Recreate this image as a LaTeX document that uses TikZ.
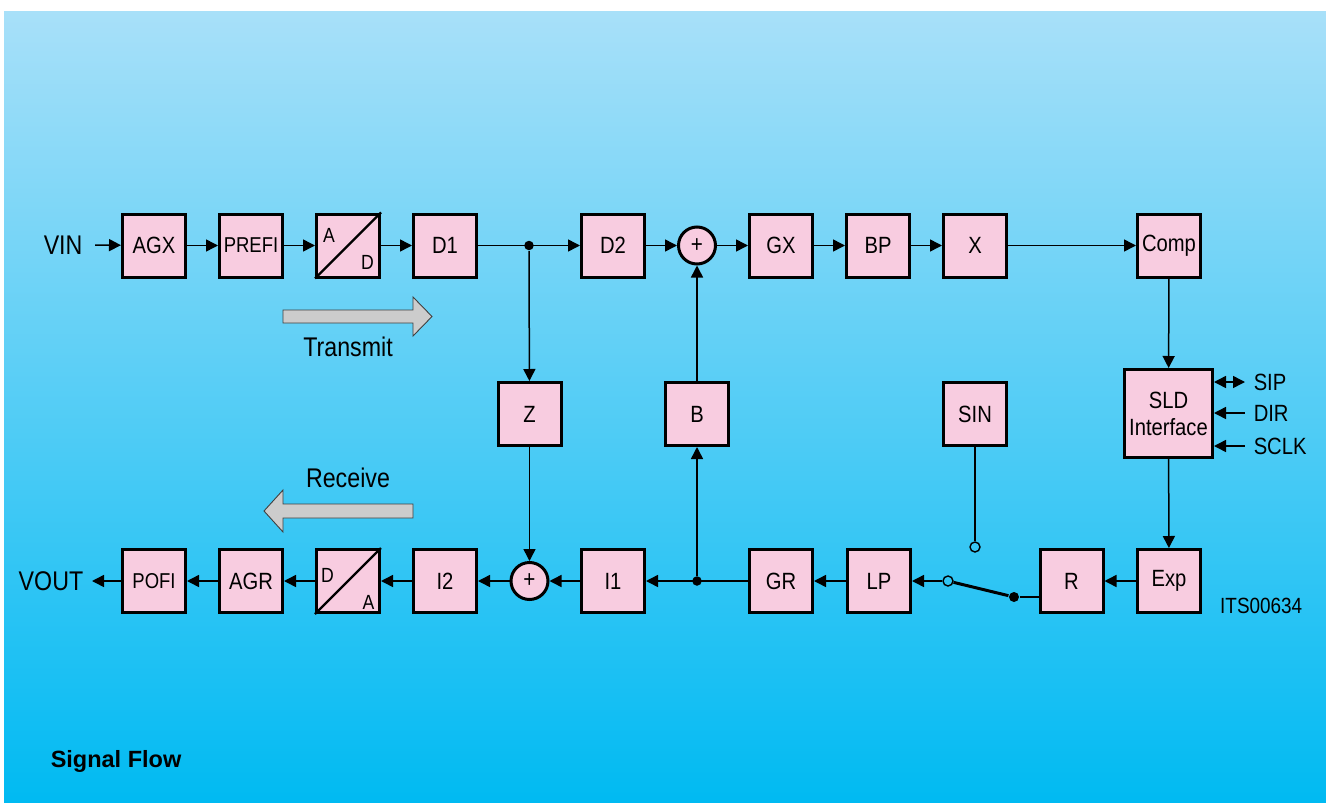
\documentclass[tikz,border=0pt]{standalone}
\usepackage{fontspec}
\setmainfont{Liberation Sans}
\newfontfamily\narrowfont{Liberation Sans}[FakeStretch=0.86]
\usepackage{xcolor}
\usetikzlibrary{arrows.meta,positioning}
\definecolor{boxpink}{RGB}{248,204,224}
\definecolor{skytop}{RGB}{168,224,249}
\definecolor{skybottom}{RGB}{0,186,242}
\definecolor{flowgray}{RGB}{204,204,204}
\newcommand{\narrowat}[2]{\narrowfont\fontsize{#1}{#2}\selectfont}

\begin{document}
\begin{tikzpicture}[x=1pt, y=-1pt, line width=1.5pt, >={Triangle[length=12pt,width=12pt]},
    block/.style={draw, rectangle, line width=3pt, fill=boxpink, minimum width=63pt, minimum height=63pt, inner sep=0pt, font=\narrowat{23.5}{27}},
    summer/.style={draw, circle, line width=3pt, fill=boxpink, minimum size=37pt, inner sep=0pt, font=\narrowat{24}{26}},
    junction/.style={circle, fill=black, minimum size=9.5pt, inner sep=0pt},
    contact/.style={draw, circle, line width=1.4pt, minimum size=10pt, inner sep=0pt},
    sidelabel/.style={inner sep=0pt, font=\narrowat{27}{31}},
    pinlabel/.style={inner sep=0pt, anchor=west, font=\narrowat{23.5}{27}},
    bigflow/.style={draw=black!75, line width=0.9pt, fill=flowgray}]
    \useasboundingbox (0,0) rectangle (1326,803);
    \shade[top color=skytop, bottom color=skybottom] (4,11) rectangle (1326,803);

    % transmit path
    \node[sidelabel, anchor=west] (vin) at (43,245) {VIN};
    \node[block] (agx) at (154,245.5) {AGX};
    \node[block, font=\narrowat{21.5}{25}] (prefi) at (251,245.5) {PREFI};
    \node[block] (ad) at (348,245.5) {};
    \node[block] (done) at (445,245.5) {D1};
    \node[junction] (jtx) at (529,245.5) {};
    \node[block] (dtwo) at (613,245.5) {D2};
    \node[summer] (sumtx) at (697,245.5) {+};
    \node[block] (gx) at (781,245.5) {GX};
    \node[block] (bp) at (878,245.5) {BP};
    \node[block] (xb) at (975,245.5) {X};
    \node[block] (comp) at (1169,245.5) {Comp};

    % middle row
    \node[block] (z) at (529.5,414) {Z};
    \node[block] (b) at (697,414) {B};
    \node[block] (sin) at (975,414) {SIN};
    \node[block, minimum width=88pt, minimum height=88pt, align=center] (sld) at (1168.5,413.5) {SLD\\Interface};
    \node[pinlabel] (sip) at (1253,382) {SIP};
    \node[pinlabel] (dir) at (1253,413) {DIR};
    \node[pinlabel] (sclk) at (1253,446) {SCLK};

    % receive path
    \node[sidelabel, anchor=west] (vout) at (18,581) {VOUT};
    \node[block, font=\narrowat{21.5}{25}] (pofi) at (154,581) {POFI};
    \node[block] (agr) at (251,581) {AGR};
    \node[block] (da) at (348,581) {};
    \node[block] (itwo) at (445,581) {I2};
    \node[summer] (sumrx) at (529.5,581) {+};
    \node[block] (ione) at (613,581) {I1};
    \node[junction] (jrx) at (697,581) {};
    \node[block] (gr) at (781,581) {GR};
    \node[block] (lp) at (879,581) {LP};
    \node[contact] (swa) at (948,581) {};
    \node[contact] (sinc) at (975,547) {};
    \node[junction, minimum size=10pt] (swb) at (1014,597) {};
    \node[block] (r) at (1071.5,581) {R};
    \node[block] (exp) at (1169,581) {Exp};

    % converter boxes
    \draw[line width=2.4pt] (ad.south west) -- (ad.north east);
    \node[inner sep=0pt, font=\narrowat{20.5}{23}] (ada) at ([xshift=-19pt,yshift=10pt]ad.center) {A};
    \node[inner sep=0pt, font=\narrowat{20.5}{23}] (add) at ([xshift=19.5pt,yshift=-16.5pt]ad.center) {D};
    \draw[line width=2.4pt] (da.south west) -- (da.north east);
    \node[inner sep=0pt, font=\narrowat{20.5}{23}] (dad) at ([xshift=-20.5pt,yshift=5.5pt]da.center) {D};
    \node[inner sep=0pt, font=\narrowat{20.5}{23}] (daa) at ([xshift=20.5pt,yshift=-21.5pt]da.center) {A};

    % transmit connectors
    \draw[->] ([xshift=12pt]vin.east) -- (agx);
    \draw[->] (agx) -- (prefi);
    \draw[->] (prefi) -- (ad);
    \draw[->] (ad) -- (done);
    \draw[->] (done) -- (dtwo);
    \draw[->] (dtwo) -- (sumtx);
    \draw[->] (sumtx) -- (gx);
    \draw[->] (gx) -- (bp);
    \draw[->] (bp) -- (xb);
    \draw[->] (xb) -- (comp);
    \draw[->] (jtx) -- (z);
    \draw[->] (z) -- (sumrx);
    \draw[->] (comp) -- (sld);
    \draw[->] (sld) -- (exp);
    \draw[<->] (sip.west -| sld.east) -- ([xshift=-8pt]sip.west);
    \draw[<-] (dir.west -| sld.east) -- ([xshift=-8pt]dir.west);
    \draw[<-] (sclk.west -| sld.east) -- ([xshift=-8pt]sclk.west);

    % receive connectors
    \draw[->] (exp) -- (r);
    \draw (r.west |- swb) -- (swb);
    \draw[line width=3pt] (swb) -- (swa);
    \draw (sin) -- (sinc);
    \draw[->] (swa) -- (lp);
    \draw[->] (lp) -- (gr);
    \draw[->] (gr) -- (ione);
    \draw[->] (jrx) -- (b);
    \draw[->] (b) -- (sumtx);
    \draw[->] (ione) -- (sumrx);
    \draw[->] (sumrx) -- (itwo);
    \draw[->] (itwo) -- (da);
    \draw[->] (da) -- (agr);
    \draw[->] (agr) -- (pofi);
    \draw[->] (pofi) -- ([xshift=8pt]vout.east);

    % direction arrows
    \draw[bigflow] (283,310) -- (413,310) -- (413,297) -- (432,316.5) -- (413,336) -- (413,323) -- (283,323) -- cycle;
    \node[sidelabel] (transmit) at (348,347) {Transmit};
    \draw[bigflow] (413,504) -- (283,504) -- (283,490) -- (264,511) -- (283,532) -- (283,518) -- (413,518) -- cycle;
    \node[sidelabel] (receive) at (348,478) {Receive};

    \node[anchor=east, inner sep=0pt, font=\narrowat{22}{25}] (code) at (1303,606) {ITS00634};
    \node[anchor=base west, inner sep=0pt, font=\bfseries\fontsize{23.5}{28}\selectfont] (title) at (50,767) {Signal Flow};
\end{tikzpicture}
\end{document}
